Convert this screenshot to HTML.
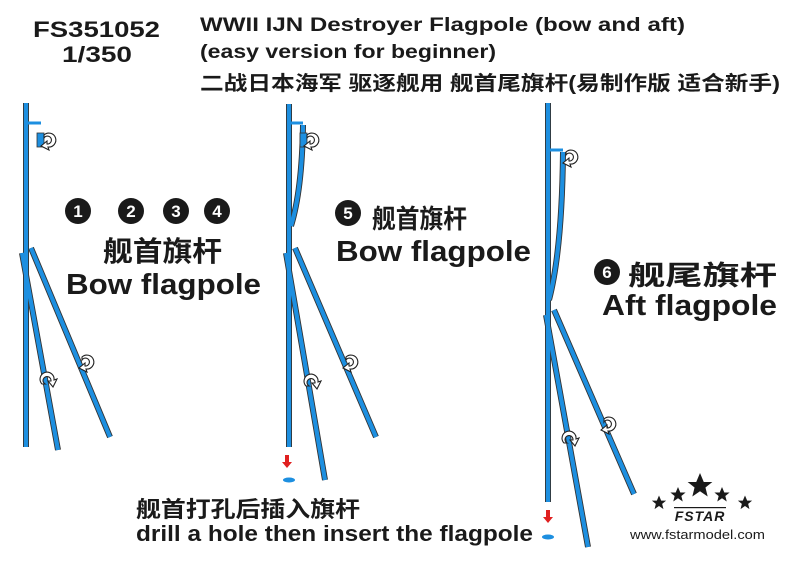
<!DOCTYPE html>
<html><head><meta charset="utf-8"><style>
body{margin:0;background:#fff;}
svg{display:block;font-family:"Liberation Sans","Noto Sans CJK SC",sans-serif;}
</style></head><body>
<svg width="800" height="562" viewBox="0 0 800 562" xmlns="http://www.w3.org/2000/svg">
<defs>
<g id="rot"><path d="M-6,-6 A7,7 0 1 1 -2,6 L-1,9 L-9,5 L-3,0 L-3,3 A4,4 0 1 0 -6,-3 Z" fill="#fff" stroke="#222" stroke-width="1.1"/></g>
<g id="star"><polygon points="0,-10 2.9,-3.1 9.5,-3.1 4.2,1.2 5.9,8.1 0,4 -5.9,8.1 -4.2,1.2 -9.5,-3.1 -2.9,-3.1" fill="#1a1a1a"/></g>
</defs>
<g font-weight="bold" fill="#1a1a1a">
<text x="33" y="37" font-size="22" textLength="127" lengthAdjust="spacingAndGlyphs">FS351052</text>
<text x="62" y="62" font-size="22" textLength="70" lengthAdjust="spacingAndGlyphs">1/350</text>
<text x="200" y="31" font-size="19" textLength="485" lengthAdjust="spacingAndGlyphs">WWII IJN Destroyer Flagpole (bow and aft)</text>
<text x="200" y="58" font-size="19" textLength="296" lengthAdjust="spacingAndGlyphs">(easy version for beginner)</text>
<text x="200" y="90" font-size="20" textLength="580" lengthAdjust="spacingAndGlyphs">二战日本海军 驱逐舰用 舰首尾旗杆(易制作版 适合新手)</text>
</g>
<g fill="none" stroke-linecap="butt">
<g stroke="#333" stroke-width="6">
<path d="M26,103V447M22,253L58,450M31,248L110,437"/>
<path d="M289,104V447M286,253L325,480M295,248L376,437M303,125Q302,190 291,226"/>
<path d="M548,103V502M546,315L588,547M554,310L634,494M563,152Q562,250 549,300"/>
</g>
<g stroke="#1d8fe0" stroke-width="4.2">
<path d="M26,103V447M22,253L58,450M31,248L110,437"/>
<path d="M289,104V447M286,253L325,480M295,248L376,437M303,125Q302,190 291,226"/>
<path d="M548,103V502M546,315L588,547M554,310L634,494M563,152Q562,250 549,300"/>
</g>
<g stroke="#1d8fe0" stroke-width="3">
<path d="M26,123H41M289,123H303M548,150H563"/>
</g>
</g>
<rect x="37" y="133" width="7" height="14" fill="#1d8fe0" stroke="#333" stroke-width="0.8"/>
<rect x="300" y="133" width="7" height="14" fill="#1d8fe0" stroke="#333" stroke-width="0.8"/>
<use href="#rot" x="50" y="141"/><use href="#rot" x="88" y="363"/><use href="#rot" x="48" y="378" transform="rotate(-90 48 378)"/>
<use href="#rot" x="313" y="141"/><use href="#rot" x="352" y="363"/><use href="#rot" x="312" y="380" transform="rotate(-90 312 380)"/>
<use href="#rot" x="572" y="158"/><use href="#rot" x="610" y="425"/><use href="#rot" x="570" y="437" transform="rotate(-90 570 437)"/>
<g fill="#e02020"><path d="M285,455h4v7h3l-5,6l-5,-6h3z"/><path d="M546,510h4v7h3l-5,6l-5,-6h3z"/></g>
<ellipse cx="289" cy="480" rx="6" ry="2.5" fill="#1d8fe0"/>
<ellipse cx="548" cy="537" rx="6" ry="2.5" fill="#1d8fe0"/>
<g fill="#1a1a1a"><circle cx="78" cy="211" r="13"/><circle cx="131" cy="211" r="13"/><circle cx="176" cy="211" r="13"/><circle cx="217" cy="211" r="13"/><circle cx="348" cy="213" r="13"/><circle cx="607" cy="272" r="13"/></g>
<g fill="#fff" font-weight="bold" font-size="17" text-anchor="middle">
<text x="78" y="217">1</text><text x="131" y="217">2</text><text x="176" y="217">3</text><text x="217" y="217">4</text><text x="348" y="219">5</text><text x="607" y="278">6</text></g>
<g fill="#1a1a1a" font-weight="bold">
<text x="103" y="261" font-size="28" textLength="119" lengthAdjust="spacingAndGlyphs">舰首旗杆</text>
<text x="66" y="294" font-size="29" textLength="195" lengthAdjust="spacingAndGlyphs">Bow flagpole</text>
<text x="372" y="228" font-size="26" textLength="95" lengthAdjust="spacingAndGlyphs">舰首旗杆</text>
<text x="336" y="261" font-size="29" textLength="195" lengthAdjust="spacingAndGlyphs">Bow flagpole</text>
<text x="628" y="285" font-size="27" textLength="149" lengthAdjust="spacingAndGlyphs">舰尾旗杆</text>
<text x="602" y="315" font-size="29" textLength="175" lengthAdjust="spacingAndGlyphs">Aft flagpole</text>
<text x="136" y="517" font-size="22" textLength="224" lengthAdjust="spacingAndGlyphs">舰首打孔后插入旗杆</text>
<text x="136" y="541" font-size="22" textLength="397" lengthAdjust="spacingAndGlyphs">drill a hole then insert the flagpole</text>
</g>
<use href="#star" transform="translate(700 486) scale(1.3)"/>
<use href="#star" transform="translate(678 495) scale(0.8)"/>
<use href="#star" transform="translate(722 495) scale(0.8)"/>
<use href="#star" transform="translate(659 503) scale(0.75)"/>
<use href="#star" transform="translate(745 503) scale(0.75)"/>
<rect x="674" y="507" width="52" height="1.2" fill="#1a1a1a"/>
<text x="700" y="521" font-size="14" font-weight="bold" font-style="italic" text-anchor="middle" fill="#1a1a1a" letter-spacing="1">FSTAR</text>
<text x="630" y="539" font-size="13" fill="#1a1a1a" textLength="135" lengthAdjust="spacingAndGlyphs">www.fstarmodel.com</text>
</svg>
</body></html>
